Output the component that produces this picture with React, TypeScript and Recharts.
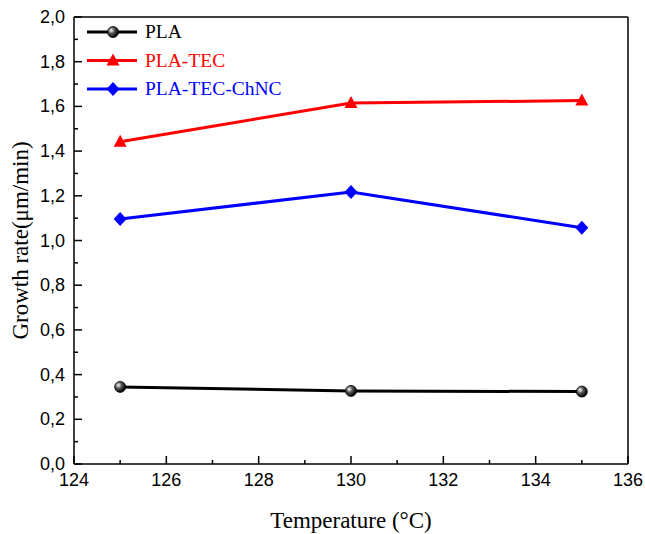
import React from "react";
import { LineChart, Line, XAxis, YAxis, ReferenceLine } from "recharts";

const temps = [125, 130, 135];
const pla = [0.345, 0.327, 0.324];
const plaTec = [1.442, 1.615, 1.626];
const plaTecChnc = [1.096, 1.217, 1.057];

const xTicks = [124, 125, 126, 127, 128, 129, 130, 131, 132, 133, 134, 135, 136];
const yTicks = [0, 0.1, 0.2, 0.3, 0.4, 0.5, 0.6, 0.7, 0.8, 0.9, 1, 1.1, 1.2, 1.3, 1.4, 1.5, 1.6, 1.7, 1.8, 1.9, 2];

const SERIES = [
  { key: "pla", name: "PLA", color: "#000000", shape: "circle" },
  { key: "tec", name: "PLA-TEC", color: "#ff0000", shape: "triangle" },
  { key: "chnc", name: "PLA-TEC-ChNC", color: "#0000ff", shape: "diamond" },
];

const data = temps.map((t, i) => ({ t, pla: pla[i], tec: plaTec[i], chnc: plaTecChnc[i] }));

const SANS = "'Liberation Sans', Arial, sans-serif";
const SERIF = "'Liberation Serif', 'Times New Roman', serif";

function Marker({ shape, cx, cy, color, grad }: { shape: string; cx: number; cy: number; color: string; grad?: string }) {
  if (shape === "circle") {
    return <circle cx={cx} cy={cy} r={5.5} fill={`url(#${grad ?? "ball"})`} stroke="#000" strokeWidth={0.8} />;
  }
  if (shape === "triangle") {
    return <polygon points={`${cx},${cy - 7} ${cx + 6.5},${cy + 5} ${cx - 6.5},${cy + 5}`} fill={color} />;
  }
  return <polygon points={`${cx},${cy - 7} ${cx + 6.5},${cy} ${cx},${cy + 7} ${cx - 6.5},${cy}`} fill={color} />;
}

const XTick = (props: any) => {
  const { x, y, payload } = props;
  const major = payload.value % 2 === 0;
  return (
    <g>
      <line x1={x} x2={x} y1={y} y2={y - (major ? 8 : 4)} stroke="#000" strokeWidth={1.5} />
      {major && (
        <text x={x} y={y + 22} textAnchor="middle" fontFamily={SANS} fontSize={18} fill="#000">
          {payload.value}
        </text>
      )}
    </g>
  );
};

const YTick = (props: any) => {
  const { x, y, payload } = props;
  const v = Math.round(payload.value * 10);
  const major = v % 2 === 0;
  return (
    <g>
      <line x1={x} x2={x + (major ? 8 : 4)} y1={y} y2={y} stroke="#000" strokeWidth={1.5} />
      {major && (
        <text x={x - 9} y={y + 6} textAnchor="end" fontFamily={SANS} fontSize={18} fill="#000">
          {(v / 10).toFixed(1).replace(".", ",")}
        </text>
      )}
    </g>
  );
};

const LegendBox = () => (
  <svg width={260} height={100} style={{ position: "absolute", left: 87, top: 17 }}>
    <defs>
      <radialGradient id="ball2" cx="35%" cy="35%" r="65%">
        <stop offset="0%" stopColor="#ffffff" />
        <stop offset="45%" stopColor="#555555" />
        <stop offset="100%" stopColor="#000000" />
      </radialGradient>
    </defs>
    {SERIES.map((s, i) => {
      const cy = 15 + i * 28.5;
      return (
        <g key={s.key}>
          <line x1={0} x2={50} y1={cy} y2={cy} stroke={s.color} strokeWidth={3} />
          <Marker shape={s.shape} cx={26} cy={cy} color={s.color} grad="ball2" />
          <text x={58} y={cy + 6} fontFamily={SERIF} fontSize={19.5} fill={s.color}>
            {s.name}
          </text>
        </g>
      );
    })}
  </svg>
);

export default function App() {
  return (
    <div style={{ position: "absolute", left: 0, top: 0, width: 645, height: 534, background: "#fff" }}>
      <LineChart width={645} height={534} data={data} margin={{ top: 17, right: 17, bottom: 0, left: 0 }}>
        <defs>
          <radialGradient id="ball" cx="35%" cy="35%" r="65%">
            <stop offset="0%" stopColor="#ffffff" />
            <stop offset="45%" stopColor="#555555" />
            <stop offset="100%" stopColor="#000000" />
          </radialGradient>
        </defs>
        <XAxis
          dataKey="t"
          type="number"
          domain={[124, 136]}
          ticks={xTicks}
          interval={0}
          tickSize={0}
          tickMargin={0}
          tickLine={false}
          tick={<XTick />}
          height={70}
          axisLine={{ stroke: "#000", strokeWidth: 1.5 }}
          label={{ value: "Temperature (°C)", position: "insideBottom", offset: 6, fontFamily: SERIF, fontSize: 23, fill: "#000" }}
        />
        <YAxis
          type="number"
          domain={[0, 2]}
          ticks={yTicks}
          interval={0}
          tickSize={0}
          tickMargin={0}
          tickLine={false}
          tick={<YTick />}
          width={74}
          axisLine={{ stroke: "#000", strokeWidth: 1.5 }}
          label={{ value: "Growth rate(μm/min)", angle: -90, position: "insideLeft", offset: 20, style: { textAnchor: "middle" }, fontFamily: SERIF, fontSize: 23, fill: "#000" }}
        />
        <ReferenceLine y={2} stroke="#000" strokeWidth={1.5} />
        <ReferenceLine x={136} stroke="#000" strokeWidth={1.5} />
        {SERIES.map((s) => (
          <Line
            key={s.key}
            dataKey={s.key}
            name={s.name}
            stroke={s.color}
            strokeWidth={3}
            isAnimationActive={false}
            dot={(p: any) => <Marker key={`${s.key}-${p.index}`} shape={s.shape} cx={p.cx} cy={p.cy} color={s.color} />}
            activeDot={false}
          />
        ))}
      </LineChart>
      <LegendBox />
    </div>
  );
}
